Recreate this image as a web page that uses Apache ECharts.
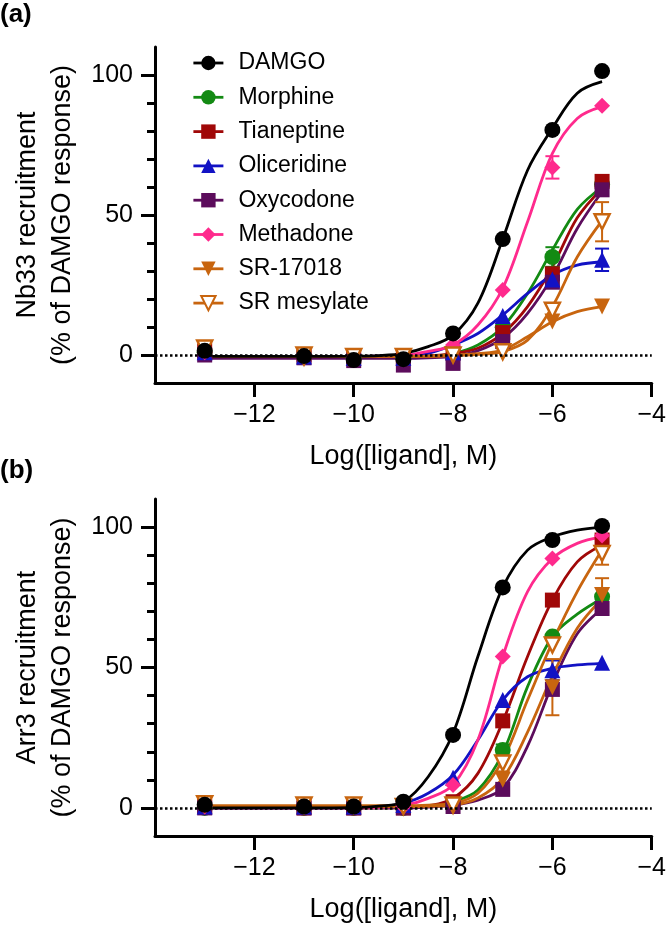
<!DOCTYPE html>
<html>
<head>
<meta charset="utf-8">
<script src="https://cdn.jsdelivr.net/npm/echarts@6/dist/echarts.min.js"></script>
<style>
html,body{margin:0;padding:0;background:#fff;}
#chart{width:669px;height:925px;}
</style>
</head>
<body>
<div id="chart"></div>
<script>
// ---------- DATA ----------
const compounds = ['DAMGO', 'Morphine', 'Tianeptine', 'Oliceridine', 'Oxycodone', 'Methadone', 'SR-17018', 'SR mesylate'];
const xTickValues = [-12, -10, -8, -6, -4];
const yTickValues = [0, 50, 100];
const xPts = [-13, -11, -10, -9, -8, -7, -6, -5];
const xFit = [-13, -11, -10, -9.5, -9, -8.5, -8, -7.5, -7, -6.5, -6, -5.5, -5];

// (a) Nb33 recruitment – measured points
const nbDAMGO       = [1.5, -0.4, -1.8, -1.5, 7.7, 41.4, 80.4, 101.4];
const nbMorphine    = [1.0, -0.5, -1.0, -1.0, -0.5, 9.9, 35.0, 61.0];
const nbTianeptine  = [1.5, 0.0, -0.5, -1.0, 0.6, 8.0, 29.0, 62.0];
const nbOliceridine = [1.0, -0.5, -1.0, -1.0, 1.0, 13.9, 27.0, 34.0];
const nbOxycodone   = [0.0, -1.0, -2.0, -3.6, -3.0, 4.8, 26.0, 59.0];
const nbMethadone   = [1.0, 0.0, -0.5, -0.5, 3.6, 23.2, 67.0, 89.0];
const nbSR17018     = [2.5, -1.5, -0.5, -1.0, 0.0, 1.0, 12.0, 17.3];
const nbSRmesylate  = [2.5, 0.0, -0.5, -0.5, 0.0, 1.2, 16.0, 47.6];
// (a) error bars (visible ones only)
const nbErrMorphine    = [null, null, null, null, null, null, 3.5, null];
const nbErrOliceridine = [null, null, null, null, null, null, null, 4.0];
const nbErrMethadone   = [null, null, null, null, null, null, 4.0, null];
const nbErrSRmesylate  = [null, null, null, null, null, null, null, 7.0];
// (a) fitted curves, read at xFit
const fitNbDAMGO       = [-0.5, -0.5, -0.4, -0.2, 0.6, 3.0, 7.1, 18.5, 41.4, 66.0, 81.0, 93.5, 97.6];
const fitNbMorphine    = [-0.8, -0.8, -0.8, -0.8, -0.7, -0.5, 0.5, 3.6, 10.0, 22.0, 37.5, 52.0, 60.0];
const fitNbTianeptine  = [-0.5, -0.5, -0.5, -0.5, -0.5, -0.3, 0.5, 2.4, 7.7, 17.3, 31.5, 49.0, 59.5];
const fitNbOliceridine = [-0.5, -0.5, -0.5, -0.4, 0.0, 0.6, 3.6, 7.7, 14.3, 22.0, 28.6, 32.1, 33.3];
const fitNbOxycodone   = [-1.2, -1.2, -1.2, -1.2, -1.2, -1.0, -0.5, 1.5, 6.0, 14.9, 28.0, 45.2, 58.3];
const fitNbMethadone   = [-0.5, -0.5, -0.5, -0.4, -0.2, 1.3, 3.6, 10.7, 23.8, 47.6, 72.0, 84.5, 88.7];
const fitNbSR17018     = [-0.5, -0.5, -0.5, -0.5, -0.5, -0.4, 0.0, 0.5, 1.8, 6.5, 11.9, 15.5, 17.3];
const fitNbSRmesylate  = [-0.5, -0.5, -0.5, -0.5, -0.5, -0.5, -0.3, 0.2, 1.2, 5.3, 17.3, 35.0, 48.0];

// (b) Arr3 recruitment – measured points
const arDAMGO       = [1.1, 0.5, 0.5, 2.2, 26.0, 78.5, 95.4, 100.4];
const arMorphine    = [0.0, 0.0, 0.0, 0.0, 1.0, 20.6, 61.0, 75.2];
const arTianeptine  = [0.5, 0.0, 0.0, 0.0, 2.2, 31.0, 74.0, 95.4];
const arOliceridine = [0.5, 0.5, 0.5, 1.0, 10.7, 38.4, 49.0, 51.7];
const arOxycodone   = [0.0, 0.0, 0.0, 0.0, 0.5, 6.6, 42.2, 71.0];
const arMethadone   = [0.5, 0.5, 0.5, 0.5, 8.2, 53.9, 88.8, 97.0];
const arSR17018     = [1.5, 0.5, 0.5, 0.5, 1.0, 10.0, 43.0, 75.8];
const arSRmesylate  = [1.5, 1.0, 1.0, 0.5, 1.0, 16.0, 58.0, 90.6];
// (b) error bars (visible ones only)
const arErrMorphine    = [null, null, null, null, null, 2.0, null, null];
const arErrOliceridine = [null, null, null, null, null, null, 3.5, null];
const arErrSR17018     = [null, null, null, null, null, null, 10.0, 6.0];
const arErrSRmesylate  = [null, null, null, null, null, 3.0, null, 4.0];
// (b) fitted curves, read at xFit
const fitArDAMGO       = [0.0, 0.0, 0.1, 0.6, 2.2, 11.1, 26.6, 53.9, 78.5, 91.8, 96.5, 98.9, 99.9];
const fitArMorphine    = [0.0, 0.0, 0.0, 0.0, 0.0, 0.5, 2.2, 6.4, 19.5, 43.2, 61.0, 69.0, 74.6];
const fitArTianeptine  = [0.0, 0.0, 0.0, 0.0, 0.2, 0.8, 3.4, 12.3, 30.7, 53.9, 74.0, 87.6, 93.6];
const fitArOliceridine = [0.0, 0.0, 0.0, 0.4, 1.6, 5.2, 11.7, 24.2, 38.4, 46.7, 49.7, 50.9, 51.5];
const fitArOxycodone   = [0.0, 0.0, 0.0, 0.0, 0.0, 0.3, 1.0, 2.8, 7.0, 22.0, 44.0, 62.0, 71.0];
const fitArMethadone   = [0.0, 0.0, 0.0, 0.2, 0.8, 3.4, 8.2, 24.2, 53.9, 77.0, 88.8, 94.2, 96.5];
const fitArSR17018     = [0.5, 0.5, 0.5, 0.5, 0.5, 0.6, 1.0, 3.5, 10.5, 27.0, 47.0, 64.0, 74.5];
const fitArSRmesylate  = [0.8, 0.8, 0.8, 0.8, 0.8, 1.0, 1.6, 5.2, 17.1, 38.4, 59.0, 77.0, 91.8];

// ---------- STYLES ----------
const FONT = '"Liberation Sans", Arial, Helvetica, sans-serif';
const STYLE = {
  'DAMGO':       {color: '#000000', symbol: 'circle',   size: 16, rotate: 0,   hollow: false},
  'Morphine':    {color: '#138a13', symbol: 'circle',   size: 16, rotate: 0,   hollow: false},
  'Tianeptine':  {color: '#a00808', symbol: 'rect',     size: 15, rotate: 0,   hollow: false},
  'Oliceridine': {color: '#1212c4', symbol: 'triangle', size: 16, rotate: 0,   hollow: false},
  'Oxycodone':   {color: '#5c0c5c', symbol: 'rect',     size: 15, rotate: 0,   hollow: false},
  'Methadone':   {color: '#ff2a8d', symbol: 'diamond',  size: 16, rotate: 0,   hollow: false},
  'SR-17018':    {color: '#c8650f', symbol: 'triangle', size: 16, rotate: 180, hollow: false},
  'SR mesylate': {color: '#c8650f', symbol: 'triangle', size: 15, rotate: 180, hollow: true}
};
// drawing order (later on top)
const drawOrder = ['Morphine', 'Tianeptine', 'Oxycodone', 'Oliceridine', 'Methadone', 'SR-17018', 'SR mesylate', 'DAMGO'];

const panels = [
  {
    pts: {'DAMGO': nbDAMGO, 'Morphine': nbMorphine, 'Tianeptine': nbTianeptine, 'Oliceridine': nbOliceridine,
          'Oxycodone': nbOxycodone, 'Methadone': nbMethadone, 'SR-17018': nbSR17018, 'SR mesylate': nbSRmesylate},
    fit: {'DAMGO': fitNbDAMGO, 'Morphine': fitNbMorphine, 'Tianeptine': fitNbTianeptine, 'Oliceridine': fitNbOliceridine,
          'Oxycodone': fitNbOxycodone, 'Methadone': fitNbMethadone, 'SR-17018': fitNbSR17018, 'SR mesylate': fitNbSRmesylate},
    err: {'Morphine': nbErrMorphine, 'Oliceridine': nbErrOliceridine, 'Methadone': nbErrMethadone, 'SR mesylate': nbErrSRmesylate},
    yName: 'Nb33 recruitment\n(% of DAMGO response)'
  },
  {
    pts: {'DAMGO': arDAMGO, 'Morphine': arMorphine, 'Tianeptine': arTianeptine, 'Oliceridine': arOliceridine,
          'Oxycodone': arOxycodone, 'Methadone': arMethadone, 'SR-17018': arSR17018, 'SR mesylate': arSRmesylate},
    fit: {'DAMGO': fitArDAMGO, 'Morphine': fitArMorphine, 'Tianeptine': fitArTianeptine, 'Oliceridine': fitArOliceridine,
          'Oxycodone': fitArOxycodone, 'Methadone': fitArMethadone, 'SR-17018': fitArSR17018, 'SR mesylate': fitArSRmesylate},
    err: {'Morphine': arErrMorphine, 'Oliceridine': arErrOliceridine, 'SR-17018': arErrSR17018, 'SR mesylate': arErrSRmesylate},
    yName: 'Arr3 recruitment\n(% of DAMGO response)'
  }
];

const gridLayout = [
  {left: 155, top: 47, width: 500, height: 336},
  {left: 155, top: 499, width: 500, height: 337}
];

const grids = gridLayout.map(g => Object.assign({containLabel: false}, g));
const xAxes = [], yAxes = [], series = [];

panels.forEach((p, pi) => {
  xAxes.push({
    gridIndex: pi, type: 'value', min: -14, max: -4, interval: 2,
    axisLine: {show: true, onZero: false, lineStyle: {color: '#000', width: 3}},
    axisTick: {show: true, length: 14, lineStyle: {color: '#000', width: 3}, customValues: xTickValues},
    axisLabel: {show: true, customValues: xTickValues, fontSize: 25, fontFamily: FONT, color: '#000', margin: 20,
                formatter: v => String(v).replace('-', '\u2212')},
    splitLine: {show: false},
    name: 'Log([ligand], M)', nameLocation: 'middle', nameGap: 60,
    nameTextStyle: {fontSize: 27, fontFamily: FONT, color: '#000'}
  });
  // major axis
  yAxes.push({
    gridIndex: pi, type: 'value', position: 'left', min: -10, max: 110, interval: 10,
    axisLine: {show: true, onZero: false, lineStyle: {color: '#000', width: 3}},
    axisTick: {show: true, length: 14, lineStyle: {color: '#000', width: 3}, customValues: yTickValues},
    axisLabel: {show: true, customValues: yTickValues, fontSize: 25, fontFamily: FONT, color: '#000', margin: 22},
    splitLine: {show: false},
    name: p.yName, nameLocation: 'middle', nameGap: 64, nameRotate: 90,
    nameTextStyle: {fontSize: 27, lineHeight: 35, fontFamily: FONT, color: '#000', align: 'center'}
  });
  // minor ticks axis
  yAxes.push({
    gridIndex: pi, type: 'value', position: 'left', offset: 0, min: -10, max: 110, interval: 10,
    axisLine: {show: false, onZero: false},
    axisTick: {show: true, length: 8, lineStyle: {color: '#000', width: 3}, customValues: [10, 20, 30, 40, 60, 70, 80, 90]},
    axisLabel: {show: false},
    splitLine: {show: false}
  });
});

// legend key series (empty data, supply legend icons)
compounds.forEach(name => {
  const s = STYLE[name];
  series.push({
    name: name, type: 'line', xAxisIndex: 0, yAxisIndex: 0, data: [],
    symbol: s.hollow ? 'emptyTriangle' : s.symbol, symbolRotate: s.rotate, symbolSize: s.size,
    itemStyle: {color: s.color}, lineStyle: {color: s.color, width: 2.8}
  });
});

panels.forEach((p, pi) => {
  const xi = pi, yi = pi * 2;
  // dotted zero line
  series.push({
    type: 'line', xAxisIndex: xi, yAxisIndex: yi, data: [], silent: true, z: 1,
    markLine: {silent: true, symbol: 'none', label: {show: false}, animation: false,
      lineStyle: {color: '#000', width: 2.5, type: [2.5, 2.5]}, data: [{yAxis: 0}]}
  });
  // fitted curves
  drawOrder.forEach(name => {
    const s = STYLE[name];
    series.push({
      name: name, type: 'line', xAxisIndex: xi, yAxisIndex: yi, z: 2,
      data: xFit.map((x, i) => [x, p.fit[name][i]]),
      smooth: 0.35, symbol: 'none', showSymbol: false,
      lineStyle: {color: s.color, width: 2.8}, itemStyle: {color: s.color},
      emphasis: {disabled: true}, silent: true
    });
  });
  // error bars
  Object.keys(p.err).forEach(name => {
    const s = STYLE[name];
    const arr = p.err[name];
    const d = [];
    xPts.forEach((x, i) => { if (arr[i] != null) d.push([x, p.pts[name][i], arr[i]]); });
    series.push({
      name: name, type: 'custom', xAxisIndex: xi, yAxisIndex: yi, z: 3, silent: true,
      data: d,
      renderItem: function (params, api) {
        const x = api.value(0), y = api.value(1), e = api.value(2);
        const t = api.coord([x, y + e]), b = api.coord([x, y - e]);
        const cap = 7;
        const st = {stroke: s.color, lineWidth: 2};
        return {type: 'group', children: [
          {type: 'line', shape: {x1: t[0], y1: t[1], x2: b[0], y2: b[1]}, style: st},
          {type: 'line', shape: {x1: t[0] - cap, y1: t[1], x2: t[0] + cap, y2: t[1]}, style: st},
          {type: 'line', shape: {x1: b[0] - cap, y1: b[1], x2: b[0] + cap, y2: b[1]}, style: st}
        ]};
      }
    });
  });
  // data points
  drawOrder.forEach(name => {
    const s = STYLE[name];
    series.push({
      name: name, type: 'scatter', xAxisIndex: xi, yAxisIndex: yi, z: 4,
      data: xPts.map((x, i) => [x, p.pts[name][i]]),
      symbol: s.symbol, symbolRotate: s.rotate, symbolSize: s.size,
      itemStyle: s.hollow ? {color: '#ffffff', borderColor: s.color, borderWidth: 2.5, opacity: 1}
                          : {color: s.color, opacity: 1},
      emphasis: {disabled: true}, silent: true
    });
  });
});

const chart = echarts.init(document.getElementById('chart'), null, {renderer: 'canvas'});
chart.setOption({
  animation: false,
  backgroundColor: '#ffffff',
  textStyle: {fontFamily: FONT, color: '#000'},
  grid: grids,
  xAxis: xAxes,
  yAxis: yAxes,
  legend: {
    data: compounds, orient: 'vertical', left: 187, top: 46.5,
    itemWidth: 30, itemHeight: 18, itemGap: 11.3,
    selectedMode: false,
    lineStyle: {width: 2.8},
    textStyle: {fontSize: 23, lineHeight: 23, fontFamily: FONT, color: '#000', padding: [0, 0, 0, 10]}
  },
  graphic: [
    {type: 'text', left: 0, top: 2, style: {text: '(a)', font: 'bold 26px ' + FONT, fill: '#000'}},
    {type: 'text', left: 0, top: 458, style: {text: '(b)', font: 'bold 26px ' + FONT, fill: '#000'}}
  ],
  series: series
});
</script>
</body>
</html>
